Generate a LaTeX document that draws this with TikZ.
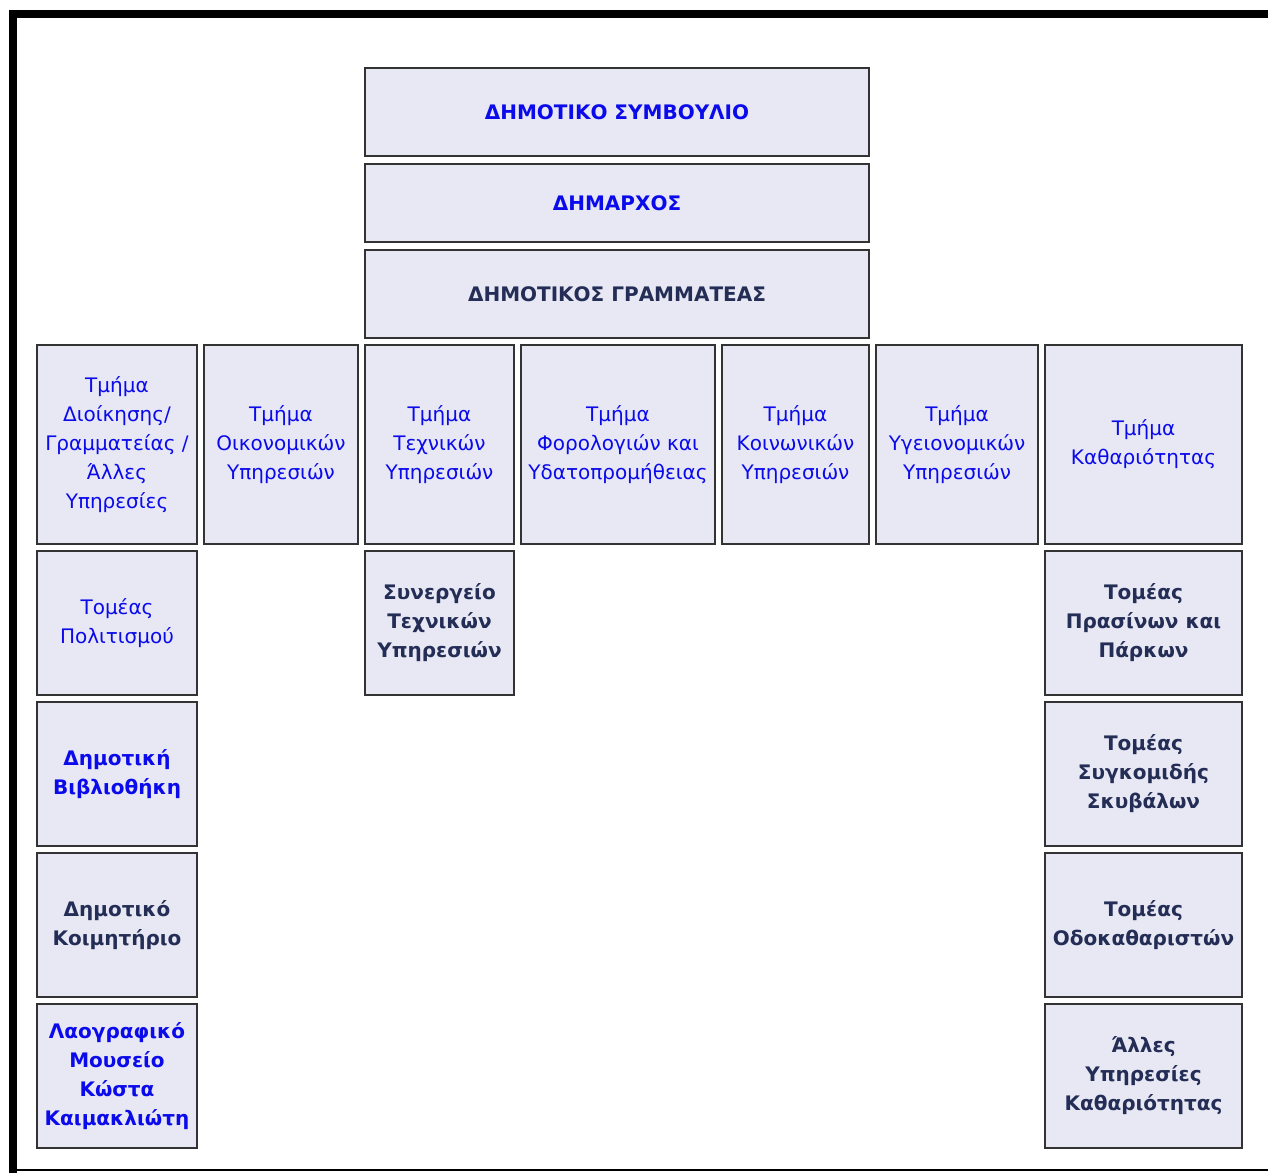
\documentclass[tikz,border=0pt]{standalone}
\usepackage{fontspec}
\setmainfont{DejaVu Sans}
\definecolor{boxfill}{RGB}{232,232,244}
\definecolor{boxline}{RGB}{51,51,51}
\definecolor{txtblue}{RGB}{10,10,235}
\definecolor{txtnavy}{RGB}{35,45,85}
\tikzset{
  box/.style={draw=boxline, line width=1pt, fill=boxfill, align=center, inner sep=0pt,
    font=\fontsize{10}{14.5}\selectfont},
  blu/.style={box, text=txtblue},
  blub/.style={box, text=txtblue, font=\fontsize{10}{14.5}\selectfont\bfseries},
  navb/.style={box, text=txtnavy, font=\fontsize{10}{14.5}\selectfont\bfseries},
  top/.style={minimum width=252pt},
  rowA/.style={minimum height=99.5pt},
  rowB/.style={minimum height=72pt},
}
\begin{document}
\begin{tikzpicture}[x=0.5pt,y=-0.5pt]
\useasboundingbox (0,0) rectangle (1268,1173);
% frame
\fill[black] (9,10) rectangle (1268,18);
\fill[black] (9,10) rectangle (17,1173);
\draw[line width=1pt] (9,1170) -- (1268,1170);
% top
\node[blub, top, minimum height=44pt] (council) at (617,112) {ΔΗΜΟΤΙΚΟ ΣΥΜΒΟΥΛΙΟ};
\node[blub, top, minimum height=39pt] (mayor) at (617,203) {ΔΗΜΑΡΧΟΣ};
\node[navb, top, minimum height=44pt] (secretary) at (617,294) {ΔΗΜΟΤΙΚΟΣ ΓΡΑΜΜΑΤΕΑΣ};
% row 1
\node[blu, rowA, minimum width=80pt] (admin) at (117,444.5) {Τμήμα\\Διοίκησης/\\Γραμματείας /\\Άλλες\\Υπηρεσίες};
\node[blu, rowA, minimum width=77pt] (finance) at (281,444.5) {Τμήμα\\Οικονομικών\\Υπηρεσιών};
\node[blu, rowA, minimum width=74.5pt] (tech) at (439.5,444.5) {Τμήμα\\Τεχνικών\\Υπηρεσιών};
\node[blu, rowA, minimum width=97pt] (tax) at (618,444.5) {Τμήμα\\Φορολογιών και\\Υδατοπρομήθειας};
\node[blu, rowA, minimum width=73.5pt] (social) at (795.5,444.5) {Τμήμα\\Κοινωνικών\\Υπηρεσιών};
\node[blu, rowA, minimum width=81pt] (health) at (957,444.5) {Τμήμα\\Υγειονομικών\\Υπηρεσιών};
\node[blu, rowA, minimum width=98.5pt] (clean) at (1143.5,444.5) {Τμήμα\\Καθαριότητας};
% left column
\node[blu, rowB, minimum width=80pt] (culture) at (117,623) {Τομέας\\Πολιτισμού};
\node[blub, rowB, minimum width=80pt] (library) at (117,774) {Δημοτική\\Βιβλιοθήκη};
\node[navb, rowB, minimum width=80pt] (cemetery) at (117,925) {Δημοτικό\\Κοιμητήριο};
\node[blub, rowB, minimum width=80pt] (museum) at (117,1076) {Λαογραφικό\\Μουσείο\\Κώστα\\Καιμακλιώτη};
% tech column
\node[navb, rowB, minimum width=74.5pt] (workshop) at (439.5,623) {Συνεργείο\\Τεχνικών\\Υπηρεσιών};
% right column
\node[navb, rowB, minimum width=98.5pt] (green) at (1143.5,623) {Τομέας\\Πρασίνων και\\Πάρκων};
\node[navb, rowB, minimum width=98.5pt] (waste) at (1143.5,774) {Τομέας\\Συγκομιδής\\Σκυβάλων};
\node[navb, rowB, minimum width=98.5pt] (street) at (1143.5,925) {Τομέας\\Οδοκαθαριστών};
\node[navb, rowB, minimum width=98.5pt] (other) at (1143.5,1076) {Άλλες\\Υπηρεσίες\\Καθαριότητας};
\end{tikzpicture}
\end{document}
